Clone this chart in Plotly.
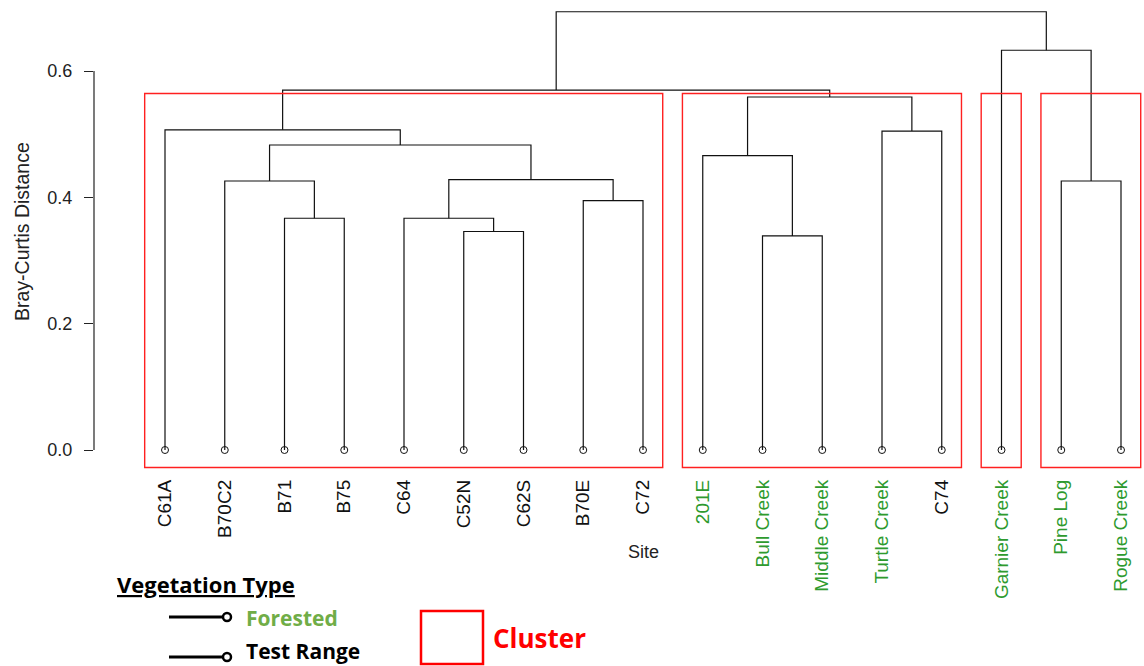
import plotly.graph_objects as go

# ---------------- data ----------------
sites = ["C61A", "B70C2", "B71", "B75", "C64", "C52N", "C62S", "B70E", "C72",
         "201E", "Bull Creek", "Middle Creek", "Turtle Creek", "C74",
         "Garnier Creek", "Pine Log", "Rogue Creek"]
veg_type = ["Test Range"] * 9 + ["Forested", "Forested", "Forested", "Forested",
                                 "Test Range", "Forested", "Forested", "Forested"]
# hclust-style merge table (negative = leaf number, positive = earlier merge)
merge_left = [-3, -6, -5, -8, 3, -2, 6, -1, -11, -10, -13, 10, 8, -16, -15, 13]
merge_right = [-4, -7, 2, -9, 4, 1, 5, 7, -12, 9, -14, 11, 12, -17, 14, 15]
merge_height = [0.367, 0.346, 0.367, 0.395, 0.428, 0.426, 0.483, 0.507,
                0.339, 0.466, 0.505, 0.559, 0.570, 0.426, 0.633, 0.694]
cluster_of_leaf = [1] * 9 + [2] * 5 + [3] + [4, 4]
n_clusters = 4
y_tick_vals = [0.0, 0.2, 0.4, 0.6]
y_tick_text = ["0.0", "0.2", "0.4", "0.6"]

# ---------------- geometry from the data ----------------
leaf_x = list(range(1, len(sites) + 1))
node_x, node_h = [], []
seg_x, seg_y = [], []


def child_pos(c):
    if c < 0:
        return leaf_x[-c - 1], 0.0
    return node_x[c - 1], node_h[c - 1]


for l, r, h in zip(merge_left, merge_right, merge_height):
    xl, hl = child_pos(l)
    xr, hr = child_pos(r)
    seg_x += [xl, xl, xr, xr, None]
    seg_y += [hl, h, h, hr, None]
    node_x.append((xl + xr) / 2)
    node_h.append(h)

y_bottom = -0.04 * max(merge_height)
hs = sorted(merge_height, reverse=True)
box_top = (hs[n_clusters - 2] + hs[n_clusters - 1]) / 2

GREEN = "#2e9a2e"
tick_text = []
for s, v in zip(sites, veg_type):
    col = GREEN if v == "Forested" else "#111111"
    tick_text.append(f"<span style='color:{col}'>{s}</span>")

# ---------------- figure ----------------
W, H = 1144, 666
L, R, T, B = 94, 2, 5, 196
PW, PH = W - L - R, H - T - B
AXFONT = "Liberation Sans, Arial"


def px(xp):
    return (xp - L) / PW


def py(yp):
    return (H - B - yp) / PH


fig = go.Figure()
fig.add_trace(go.Scatter(x=seg_x, y=seg_y, mode="lines",
                         line=dict(color="#111111", width=1.2),
                         hoverinfo="skip", showlegend=False))
fig.add_trace(go.Scatter(x=leaf_x, y=[0.0] * len(leaf_x), mode="markers",
                         marker=dict(symbol="circle-open", size=7,
                                     color="#111111", line=dict(width=1)),
                         text=sites, hoverinfo="text", showlegend=False))

# cluster rectangles
for c in range(1, n_clusters + 1):
    members = [x for x, k in zip(leaf_x, cluster_of_leaf) if k == c]
    fig.add_shape(type="rect", xref="x", yref="y",
                  x0=min(members) - 0.34, x1=max(members) + 0.33,
                  y0=y_bottom, y1=box_top,
                  line=dict(color="#ff2020", width=1.4))

# R-style y axis line (only over tick range)
fig.add_shape(type="line", xref="paper", yref="y", x0=0, x1=0,
              y0=y_tick_vals[0], y1=y_tick_vals[-1],
              line=dict(color="#222222", width=1.2))

fig.update_layout(
    width=W, height=H,
    margin=dict(l=L, r=R, t=T, b=B),
    plot_bgcolor="white", paper_bgcolor="white",
    font=dict(family=AXFONT, color="#222222"),
    xaxis=dict(range=[1 - (165 - L) / 59.75, 1 + (W - R - 165) / 59.75],
               tickmode="array", tickvals=leaf_x, ticktext=tick_text,
               tickangle=-90, ticks="", showgrid=False, zeroline=False,
               showline=False, tickfont=dict(size=19, family=AXFONT),
               ticklabelstandoff=5),
    yaxis=dict(range=[(450 - (H - B)) / 631.5, (450 - T) / 631.5],
               tickmode="array", tickvals=y_tick_vals, ticktext=y_tick_text,
               ticks="outside", ticklen=9, tickwidth=1.2, tickcolor="#222222",
               showgrid=False, zeroline=False, showline=False,
               tickfont=dict(size=18, family=AXFONT),
               ticklabelstandoff=8),
)

# axis titles
fig.add_annotation(text="Bray-Curtis Distance", textangle=-90,
                   xref="paper", yref="paper", x=px(22), y=py(232),
                   xanchor="center", yanchor="middle", showarrow=False,
                   font=dict(size=19.5, family=AXFONT, color="#222222"))
fig.add_annotation(text="Site", xref="x", yref="paper",
                   x=(1 - 0.64 + len(sites) + 0.64) / 2, y=py(552),
                   xanchor="center", yanchor="middle", showarrow=False,
                   font=dict(size=18, family=AXFONT, color="#222222"))

# ---------------- hand-made key ----------------
KEYFONT = "Open Sans, Lato, sans-serif"
fig.add_annotation(text="<b><u>Vegetation Type</u></b>", xref="paper", yref="paper",
                   x=px(115), y=py(584), xanchor="left", yanchor="middle",
                   showarrow=False, font=dict(size=22, family=KEYFONT, color="black"))
for ky, ty, label, col in [(617, 618, "Forested", "#70AD47"),
                           (657, 651, "Test Range", "black")]:
    fig.add_shape(type="line", xref="paper", yref="paper",
                  x0=px(169), x1=px(223), y0=py(ky), y1=py(ky),
                  line=dict(color="black", width=3))
    fig.add_shape(type="circle", xref="paper", yref="paper",
                  x0=px(223), x1=px(231), y0=py(ky + 4), y1=py(ky - 4),
                  line=dict(color="black", width=2.5), fillcolor="white")
    fig.add_annotation(text=f"<b>{label}</b>", xref="paper", yref="paper",
                       x=px(244), y=py(ty), xanchor="left", yanchor="middle",
                       showarrow=False, font=dict(size=21, family=KEYFONT, color=col))
fig.add_shape(type="rect", xref="paper", yref="paper",
              x0=px(421), x1=px(483), y0=py(664), y1=py(611),
              line=dict(color="#ff0000", width=2.5))
fig.add_annotation(text="<b>Cluster</b>", xref="paper", yref="paper",
                   x=px(491), y=py(638), xanchor="left", yanchor="middle",
                   showarrow=False, font=dict(size=26, family=KEYFONT, color="#ff0000"))

fig.write_html("out.html", config={"displayModeBar": False},
               post_script="document.body.style.margin='0';document.body.style.overflow='hidden';")
